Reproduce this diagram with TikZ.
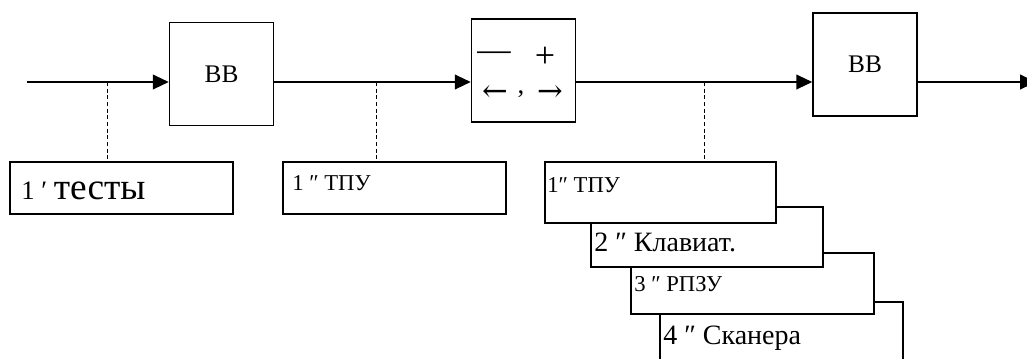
\documentclass[tikz,border=0pt]{standalone}
\usepackage{fontspec}
\setmainfont{Liberation Serif}
\newfontfamily\arrfont{DejaVu Serif}
\usetikzlibrary{arrows.meta}

\begin{document}
\begin{tikzpicture}[x=0.75pt,y=-0.75pt,
    blk/.style={draw,line width=1.1pt,minimum width=78pt,minimum height=77pt,inner sep=0pt,font=\fontsize{19}{22}\selectfont},
    lbox/.style={draw,line width=1.5pt,fill=white,inner sep=0pt},
    txt/.style={anchor=base west,inner sep=0pt},
    sgt/.style={inner sep=0pt,font=\fontsize{20}{24}\selectfont},
    arr/.style={inner sep=0pt,font=\arrfont\fontsize{23}{26}\selectfont},
    flow/.style={line width=1.5pt,-{Triangle[length=12pt,width=11pt]}},
    tap/.style={densely dashed,line width=0.6pt}]
    \useasboundingbox (0,0) rectangle (1027,358);
    \clip (0,0) rectangle (1027,358);
    % main chain
    \coordinate (in) at (27,82);
    \coordinate (out) at (1036,82);
    \node[blk] (bb1) at (221.5,74) {ВВ};
    \node[blk] (sgn) at (523.5,70.5) {};
    \node[blk] (bb2) at (865,64.5) {ВВ};
    \node[sgt,font=\fontsize{25}{28}\selectfont] (mns) at (494,56) {—};
    \node[sgt,font=\fontsize{27}{30}\selectfont] (pls) at (545,57) {+};
    \node[arr] (lft) at (495,93) {←};
    \node[sgt] (cma) at (521,94) {,};
    \node[arr] (rgt) at (550,93) {→};
    \draw[flow] (in) -- (in -| bb1.west);
    \draw[flow] (in -| bb1.east) -- (in -| sgn.west);
    \draw[flow] (in -| sgn.east) -- (in -| bb2.west);
    \draw[flow] (in -| bb2.east) -- (out);
    % lower boxes
    \node[lbox,minimum width=167.25pt,minimum height=39pt] (tst) at (121.5,188) {};
    \node[lbox,minimum width=167.25pt,minimum height=39pt] (tpu) at (394.5,188) {};
    \node[lbox,minimum width=182.25pt,minimum height=58.5pt] (s4) at (781.5,341) {};
    \node[lbox,minimum width=182.25pt,minimum height=45.75pt] (s3) at (752.5,283.5) {};
    \node[lbox,minimum width=174pt,minimum height=45pt] (s2) at (707,237) {};
    \node[lbox,minimum width=173.25pt,minimum height=45.75pt] (s1) at (660.5,192.5) {};
    \node[txt,font=\fontsize{20}{24}\selectfont] (tstt) at ([shift={(12,38)}]tst.north west) {1 ′ {\fontsize{28}{32}\selectfont тесты}};
    \node[txt,font=\fontsize{17}{20}\selectfont] (tput) at ([shift={(10,29)}]tpu.north west) {1 ″ ТПУ};
    \node[txt,font=\fontsize{17}{20}\selectfont] (s1t) at ([shift={(3,31)}]s1.north west) {1″ ТПУ};
    \node[txt,font=\fontsize{21}{24}\selectfont] (s2t) at ([shift={(4,45)}]s2.north west) {2 ″ Клавиат.};
    \node[txt,font=\fontsize{17}{20}\selectfont] (s3t) at ([shift={(4,39)}]s3.north west) {3 ″ РПЗУ};
    \node[txt,font=\fontsize{21}{24}\selectfont] (s4t) at ([shift={(4,43)}]s4.north west) {4 ″ Сканера};
    % taps
    \coordinate (t1) at (107,82);
    \coordinate (t2) at (376,82);
    \coordinate (t3) at (704,82);
    \draw[tap] (t1) -- (t1 |- tst.north);
    \draw[tap] (t2) -- (t2 |- tpu.north);
    \draw[tap] (t3) -- (t3 |- s1.north);
\end{tikzpicture}
\end{document}
